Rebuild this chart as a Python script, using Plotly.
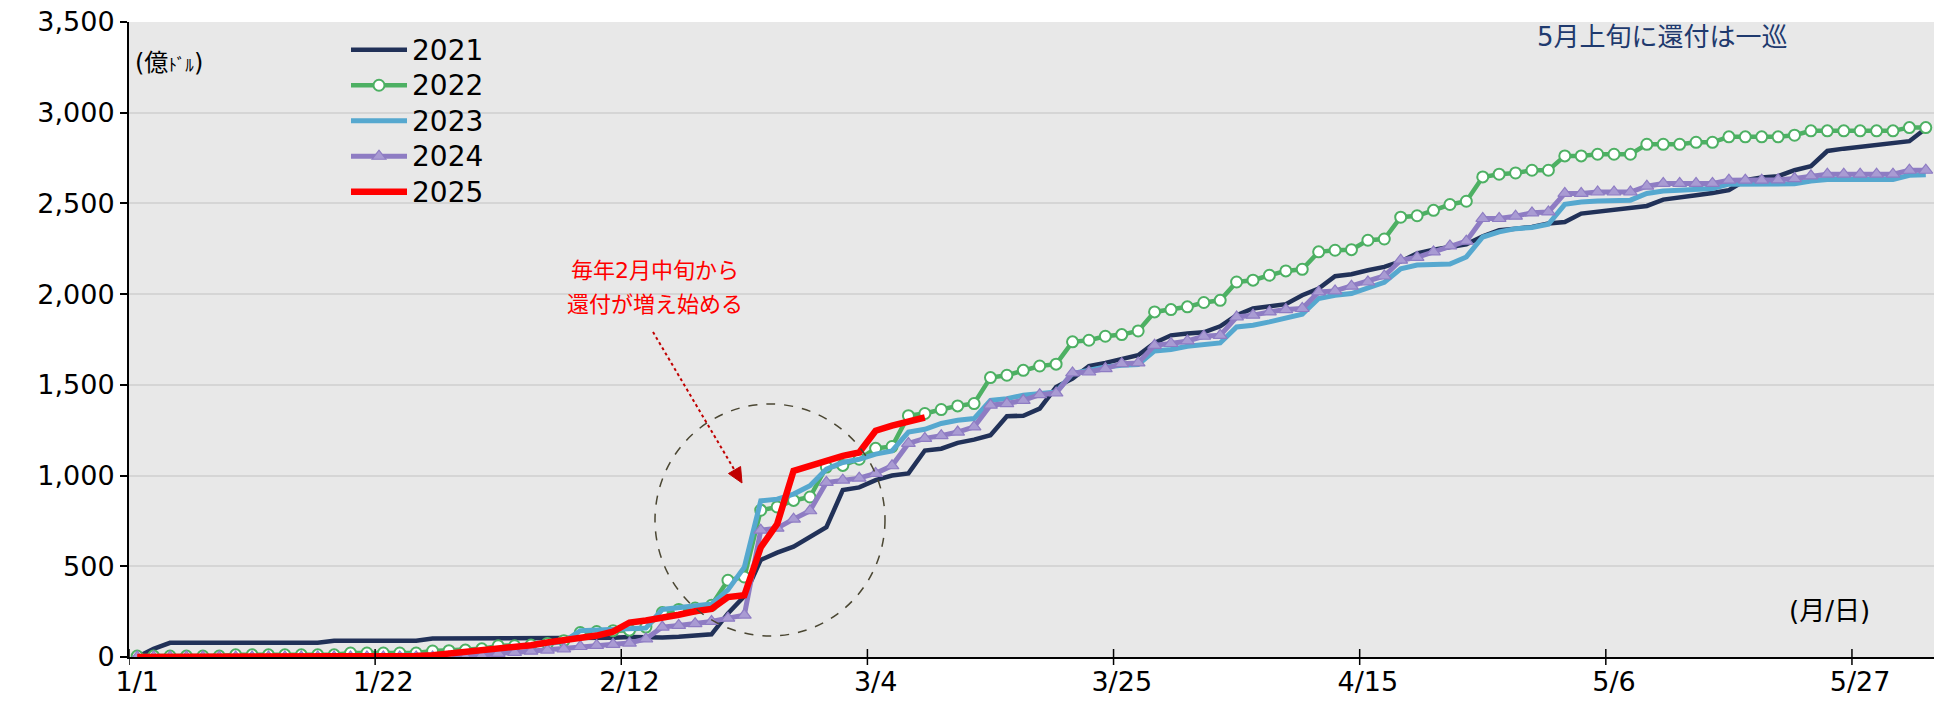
import plotly.graph_objects as go

# Category axis: business days counted from 1/1, labelled every 15 days
tick_labels = ["1/1", "1/22", "2/12", "3/4", "3/25", "4/15", "5/6", "5/27"]
tick_index = [0, 15, 30, 45, 60, 75, 90, 105]
n_days = 110

# Cumulative refunds (100 million USD)
y2021 = [0, 45, 78, 78, 78, 78, 78, 78, 78, 78, 78, 78, 90, 90, 90, 90, 90, 90,
         102, 102, 102, 102, 102, 102, 102, 102, 102, 102, 102, 106,
         110, 108, 108, 112, 119, 125,
         240, 335, 535, 575, 608, 660, 715, 920, 935, 975,
         1000, 1012, 1138, 1148, 1180, 1198, 1222, 1327, 1330, 1369,
         1488, 1535, 1604, 1621, 1639, 1663, 1731, 1773, 1783, 1790,
         1823, 1884, 1921, 1930, 1945, 1994, 2031, 2099, 2110, 2132,
         2150, 2180, 2225, 2245, 2258, 2275, 2319, 2352, 2361, 2370,
         2389, 2398, 2444, 2453, 2462, 2472, 2486, 2521, 2536, 2545,
         2558, 2573, 2628, 2643, 2650, 2683, 2705, 2789, 2802, 2811,
         2821, 2830, 2843, 2913]

y2022 = [5, 5, 5, 5, 5, 5, 12, 12, 12, 12, 12, 12, 12, 22, 22, 22, 22, 22,
         33, 35, 38, 45, 62, 62, 66, 75, 90, 135,
         140, 145, 148, 165, 245, 262, 270, 285, 423, 441,
         809, 827, 863, 882, 1047, 1056, 1090, 1150, 1160, 1330,
         1342, 1364, 1384, 1397, 1540, 1553, 1580, 1604, 1614, 1737,
         1746, 1768, 1777, 1797, 1902, 1915, 1930, 1954, 1966, 2067,
         2077, 2104, 2128, 2137, 2233, 2242, 2245, 2297, 2304, 2424,
         2432, 2462, 2494, 2512, 2646, 2661, 2668, 2683, 2683, 2762,
         2762, 2771, 2771, 2771, 2826, 2826, 2826, 2837, 2837, 2867,
         2867, 2867, 2867, 2876, 2900, 2900, 2900, 2900, 2900, 2900,
         2918, 2918]

y2023 = [3, 3, 3, 3, 3, 3, 3, 3, 3, 3, 3, 3, 3, 3, 3, 3, 10, 10, 10, 10,
         20, 30, 45, 55, 62, 70, 85, 145, 148, 150,
         154, 160, 262, 272, 280, 292, 370, 495, 861, 870,
         898, 944, 1035, 1072, 1090, 1118, 1136, 1240, 1255, 1287,
         1305, 1314, 1415, 1424, 1443, 1455, 1461, 1562, 1584, 1599,
         1608, 1612, 1687, 1695, 1713, 1724, 1731, 1819, 1829, 1847,
         1865, 1889, 1976, 1994, 2003, 2036, 2065, 2140, 2160, 2164,
         2166, 2205, 2315, 2343, 2361, 2367, 2385, 2495, 2508, 2514,
         2514, 2518, 2555, 2569, 2573, 2578, 2582, 2606, 2606, 2606,
         2606, 2608, 2624, 2632, 2632, 2632, 2632, 2632, 2655, 2658]

y2024 = [0, 0, 0, 0, 0, 0, 0, 0, 0, 0, 0, 0, 0, 0, 0, 0, 0, 0, 0, 0, 0,
         8, 20, 25, 32, 38, 45, 58, 64, 70,
         77, 100, 165, 174, 184, 196, 214, 231, 699, 710,
         760, 806, 962, 975, 986, 1012, 1054, 1177, 1205, 1220,
         1240, 1268, 1388, 1397, 1415, 1446, 1455, 1566, 1571, 1590,
         1617, 1621, 1718, 1728, 1742, 1768, 1773, 1874, 1884, 1902,
         1915, 1921, 2012, 2018, 2044, 2067, 2100, 2187, 2203, 2233,
         2266, 2292, 2417, 2417, 2430, 2448, 2453, 2555, 2555, 2563,
         2563, 2563, 2595, 2610, 2610, 2610, 2610, 2628, 2628, 2628,
         2630, 2637, 2652, 2661, 2661, 2661, 2661, 2661, 2683, 2683]

y2025 = [0, 0, 0, 0, 0, 0, 0, 0, 0, 0, 0, 0, 0, 0, 0, 0, 0,
         5, 10, 18, 25, 33, 40, 48, 65, 80, 90, 104, 118, 140,
         190, 201, 213, 233, 252, 265, 330, 340, 604, 733,
         1026, 1054, 1081, 1109, 1127, 1247, 1275, 1298, 1320]

FONT = "DejaVu Sans, Noto Sans CJK JP"
W, H = 1944, 701
L, R, T, B = 129, 1934, 22, 657   # plot area in page pixels


def px(xp):
    return (xp - L) / (R - L)


def py(yp):
    return (B - yp) / (B - T)


def legend_name(year):
    return f"<span style='font-size:28px'>{year}</span>"


fig = go.Figure()

fig.add_trace(go.Scatter(
    x=list(range(len(y2021))), y=y2021, name=legend_name("2021"), mode="lines",
    line=dict(color="#213158", width=4.5)))
fig.add_trace(go.Scatter(
    x=list(range(len(y2022))), y=y2022, name=legend_name("2022"),
    mode="lines+markers",
    line=dict(color="#4DB063", width=4.5),
    marker=dict(symbol="circle", size=11, color="white",
                line=dict(color="#4DB063", width=2))))
fig.add_trace(go.Scatter(
    x=list(range(len(y2023))), y=y2023, name=legend_name("2023"), mode="lines",
    line=dict(color="#56A8CF", width=5)))
fig.add_trace(go.Scatter(
    x=list(range(len(y2024))), y=y2024, name=legend_name("2024"),
    mode="lines+markers",
    line=dict(color="#8E7CC3", width=5),
    marker=dict(symbol="triangle-up", size=12, color="#A99BD3",
                line=dict(color="#8E7CC3", width=1.2))))
fig.add_trace(go.Scatter(
    x=list(range(len(y2025))), y=y2025, name=legend_name("2025"), mode="lines",
    line=dict(color="#FF0000", width=6.5)))

shapes = []
# tick marks crossing the category axis at the boundaries between days
for t in tick_index:
    shapes.append(dict(type="line", xref="x", yref="paper",
                       x0=t - 0.5, x1=t - 0.5, ysizemode="pixel", yanchor=0,
                       y0=-8, y1=8, line=dict(color="black", width=1.5)))
# dashed ring around the February-March surge
shapes.append(dict(type="circle", xref="paper", yref="paper",
                   x0=px(655), x1=px(885), y0=py(636), y1=py(404),
                   line=dict(color="#4A4632", width=1.5, dash="dash")))
# dotted pointer with a solid head
tip = (742, 483)
d = (0.499, 0.866)
n = (-0.866, 0.499)
base = (tip[0] - 15 * d[0], tip[1] - 15 * d[1])
shapes.append(dict(type="line", xref="paper", yref="paper",
                   x0=px(653), y0=py(332), x1=px(base[0]), y1=py(base[1]),
                   line=dict(color="#C00000", width=2, dash="dot")))
c1 = (base[0] + 7 * n[0], base[1] + 7 * n[1])
c2 = (base[0] - 7 * n[0], base[1] - 7 * n[1])
shapes.append(dict(type="path", xref="paper", yref="paper",
                   path=f"M{px(tip[0])},{py(tip[1])} L{px(c1[0])},{py(c1[1])} "
                        f"L{px(c2[0])},{py(c2[1])} Z",
                   fillcolor="#C00000", line=dict(color="#C00000", width=1)))

annotations = [
    dict(text="(億<span style='font-size:17px'>ﾄﾞﾙ</span>)", x=px(133), y=py(63),
         xanchor="left", yanchor="middle", font=dict(size=24, color="black")),
    dict(text="5月上旬に還付は一巡", x=px(1662), y=py(37),
         xanchor="center", yanchor="middle", font=dict(size=26, color="#1F3A6E")),
    dict(text="毎年2月中旬から", x=px(655), y=py(270),
         xanchor="center", yanchor="middle", font=dict(size=22, color="#FF0000")),
    dict(text="還付が増え始める", x=px(655), y=py(304),
         xanchor="center", yanchor="middle", font=dict(size=22, color="#FF0000")),
    dict(text="(月/日)", x=px(1829), y=py(611),
         xanchor="center", yanchor="middle", font=dict(size=26, color="black")),
]
for a in annotations:
    a.update(xref="paper", yref="paper", showarrow=False)

fig.update_layout(
    width=W, height=H,
    margin=dict(l=L, r=W - R, t=T, b=H - B, autoexpand=False),
    paper_bgcolor="white", plot_bgcolor="#E8E8E8",
    font=dict(family=FONT, color="black"),
    showlegend=True,
    legend=dict(x=px(346), y=py(27), xanchor="left", yanchor="top",
                bgcolor="rgba(0,0,0,0)", font=dict(size=25, family=FONT),
                tracegroupgap=0, itemwidth=56),
    shapes=shapes, annotations=annotations,
)
fig.update_xaxes(
    range=[-0.5, n_days - 0.5], showgrid=False, zeroline=False,
    showline=True, linecolor="black", linewidth=2, automargin=False,
    tickvals=tick_index, ticktext=tick_labels, ticks="",
    ticklabelstandoff=0, tickfont=dict(size=27, family=FONT))
fig.update_yaxes(
    range=[0, 3500], dtick=500, tickformat=",", showgrid=True,
    gridcolor="#D5D5D5", gridwidth=1.5, zeroline=False,
    showline=True, linecolor="black", linewidth=2, automargin=False,
    ticks="outside", ticklen=7, tickwidth=1.5, tickcolor="black",
    ticklabelstandoff=0, tickfont=dict(size=27, family=FONT))

fig.write_html("out.html")
